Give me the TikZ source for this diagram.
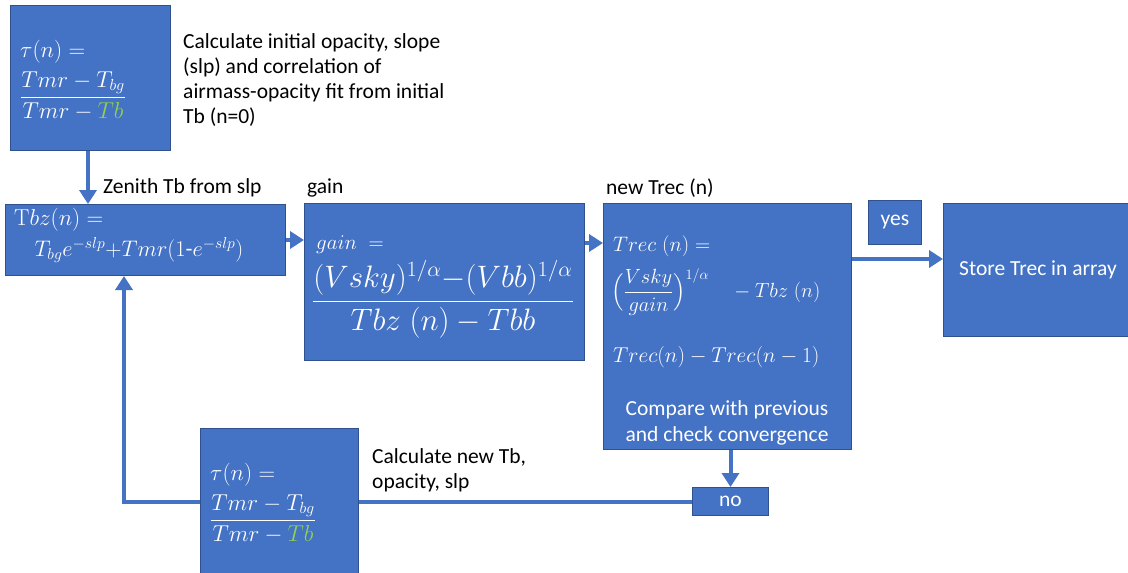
\RequirePackage{fix-cm}
\documentclass[tikz,border=0pt]{standalone}
\usepackage{amsmath}
\usepackage[no-math]{fontspec}
\setmainfont{Carlito}
\usetikzlibrary{arrows.meta}
\definecolor{obox}{HTML}{4472C4}
\definecolor{oedge}{HTML}{2F528F}
\definecolor{ogreen}{HTML}{92D050}
\tikzset{
  box/.style={draw=oedge, line width=1pt, fill=obox, anchor=north west, inner sep=0pt},
  flow/.style={draw=obox, line width=4pt, -{Triangle[width=17pt,length=14pt]}},
  plain/.style={draw=obox, line width=4pt},
  lbl/.style={anchor=west, inner sep=0pt, align=left, font=\fontsize{21.5}{25}\selectfont, text=black},
  wt/.style={text=white, inner sep=0pt, font=\fontsize{23}{27}\selectfont},
  wtxt/.style={text=white, inner sep=0pt, font=\fontsize{21.5}{26}\selectfont},
}
\begin{document}
\begin{tikzpicture}[x=1pt,y=-1pt]
\clip (0,0) rectangle (1128,573);
\fill[white] (0,0) rectangle (1128,573);
% boxes
\node[box, minimum width=160pt, minimum height=145pt] (A) at (10,5) {};
\node[box, minimum width=280pt, minimum height=71pt] (tbz) at (5,204) {};
\node[box, minimum width=280pt, minimum height=157pt] (gain) at (304,203) {};
\node[box, minimum width=248pt, minimum height=246pt] (trec) at (603,203) {};
\node[box, minimum width=53pt, minimum height=44pt] (yes) at (868,200) {};
\node[box, minimum width=195pt, minimum height=133pt] (store) at (943,203) {};
\node[box, minimum width=76pt, minimum height=28pt] (no) at (692,487) {};
\node[box, minimum width=158pt, minimum height=155pt] (bot) at (200,428) {};
% box contents
\node[wt, anchor=west] (a1) at (20,52) {$\tau(n) =$};
\node[wt, anchor=west] (a2) at (20,96) {$\dfrac{Tmr-T_{bg}}{Tmr-\textcolor{ogreen}{Tb}}$};
\node[wt, anchor=west] (z1) at (14,220) {$\mathrm{T}bz(n) =$};
\node[wt, font=\fontsize{22.5}{27}\selectfont] (z2) at (139,250) {$T_{bg}e^{-slp}{+}Tmr(1\text{-}e^{-slp})$};
\node[wt, anchor=west, font=\fontsize{21}{25}\selectfont] (g1) at (316,245) {$gain\; =$};
\node[wt, anchor=west, font=\fontsize{31}{34}\selectfont] (g2) at (312,299) {$\dfrac{(Vsky)^{1/\alpha}{-}(Vbb)^{1/\alpha}}{Tbz\;(n)-Tbb}$};
\node[wt, anchor=west, font=\fontsize{21}{25}\selectfont] (r1) at (613,246) {$Trec\;(n) =$};
\node[wt, anchor=west, font=\fontsize{20.5}{25}\selectfont] (r2) at (611,292) {$\Bigl(\dfrac{Vsky}{gain}\Bigr)^{1/\alpha}\quad - Tbz\;(n)$};
\node[wt, anchor=west, font=\fontsize{21.5}{25}\selectfont] (r3) at (613,357) {$Trec(n)-Trec(n-1)$};
\node[wtxt, align=center] (r4) at (727,423) {Compare with previous\\and check convergence};
\node[wtxt] (s1) at (1038,270) {Store Trec in array};
\node[wtxt] (y1) at (yes) {yes};
\node[wtxt] (n1) at (no) {no};
\node[wt, anchor=west] (b1) at (210,475) {$\tau(n) =$};
\node[wt, anchor=west] (b2) at (210,519) {$\dfrac{Tmr-T_{bg}}{Tmr-\textcolor{ogreen}{Tb}}$};
% labels
\node[lbl] (l1) at (183,80) {Calculate initial opacity, slope\\(slp) and correlation of\\airmass-opacity fit from initial\\Tb (n=0)};
\node[lbl] (l2) at (103,188) {Zenith Tb from slp};
\node[lbl] (l3) at (307,188) {gain};
\node[lbl] (l4) at (606,188) {new Trec (n)};
\node[lbl] (l5) at (372,470) {Calculate new Tb,\\opacity, slp};
% connectors
\coordinate (loopx) at (124,0);
\coordinate (ax) at (88,0);
\draw[flow] (ax |- A.south) -- (ax |- tbz.north);
\draw[flow] (tbz.east) -- (tbz.east -| gain.west);
\coordinate (gc) at ([yshift=-40pt]gain.north east);
\draw[flow] (gc) -- (gc -| trec.west);
\coordinate (tc) at ([yshift=-56pt]trec.north east);
\draw[flow] (tc) -- (tc -| store.west);
\draw[flow] (no.north |- trec.south) -- (no.north);
\draw[plain] (no.west) -- (no.west -| bot.east);
\draw[flow] (bot.west |- no.west) -| (loopx |- tbz.south);
\end{tikzpicture}
\end{document}
